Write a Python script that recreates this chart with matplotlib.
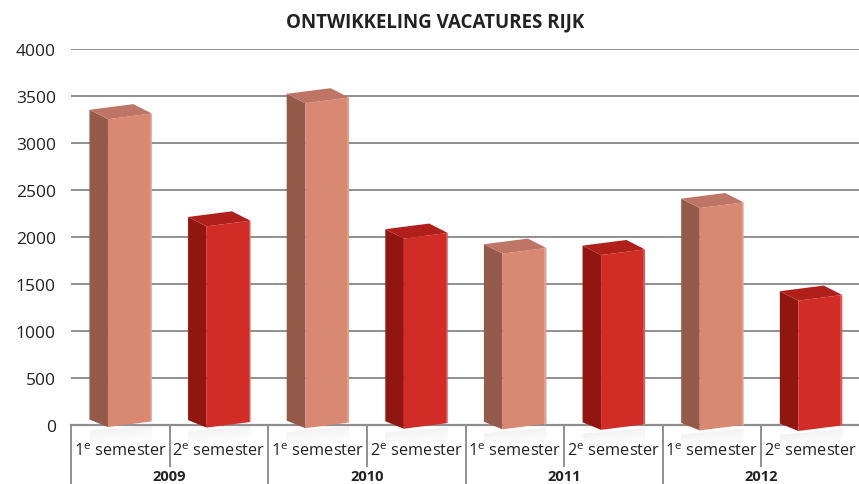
import matplotlib.pyplot as plt
from matplotlib.patches import Polygon

# Data
years = ['2009', '2010', '2011', '2012']
semesters = ['1$^{\\mathregular{e}}$ semester', '2$^{\\mathregular{e}}$ semester']
values = [3280, 2140, 3450, 2010, 1850, 1835, 2335, 1350]
yticks = [0, 500, 1000, 1500, 2000, 2500, 3000, 3500, 4000]

front_cols = ['#D98872', '#D12C26']
side_cols = ['#955A4A', '#91160F']
top_cols = ['#BF7565', '#B11F1B']

plt.rcParams['font.family'] = ['Open Sans', 'DejaVu Sans']

fig = plt.figure(figsize=(8.59, 4.85), dpi=100)
ax = fig.add_axes([71 / 859, (485 - 425.7) / 485, 789 / 859, (425.7 - 49.7) / 485])
ax.set_xlim(0, 8)
ax.set_ylim(0, 4000)

for v in yticks[1:]:
    ax.axhline(v, color='#8f8f8f', lw=1.4, zorder=1)
ax.axhline(0, color='#8f8f8f', lw=1.6, zorder=1, clip_on=False)

# pseudo 3D bar geometry (category units / value units)
x_front0, x_front1 = 0.375, 0.82
dx, dy = 0.188, 100
slant = 30

for i, v in enumerate(values):
    k = i % 2
    x0 = i + x_front0
    x1 = i + x_front1
    b = 5 - 6 * i
    bl, br = b - slant, b + slant
    tl, tr = v - slant, v + slant

    # soft shadow below baseline
    for j in range(6):
        ax.add_patch(Polygon([(x0 - dx, bl - 40 - j * 25), (x1, br - 40 - j * 25),
                              (x1, br - 40 - (j + 1) * 25), (x0 - dx, bl - 40 - (j + 1) * 25)],
                             closed=True, facecolor='#b8b8b8', alpha=0.16 * (6 - j) / 6,
                             lw=0, zorder=0.5, clip_on=False))

    side = Polygon([(x0, bl), (x0, tl), (x0 - dx, tl + dy), (x0 - dx, bl + dy * 0.8)],
                   closed=True, facecolor=side_cols[k], edgecolor='none', zorder=3, clip_on=False)
    front = Polygon([(x0, bl), (x1, br), (x1, tr), (x0, tl)],
                    closed=True, facecolor=front_cols[k], edgecolor='none', zorder=3, clip_on=False)
    top = Polygon([(x0, tl), (x1, tr), (x1 - dx, tr + dy), (x0 - dx, tl + dy)],
                  closed=True, facecolor=top_cols[k], edgecolor='none', zorder=3, clip_on=False)
    for p in (side, front, top):
        ax.add_patch(p)
    ax.plot([x1 - 0.01, x1 - 0.01], [br, tr], color='white', alpha=0.25, lw=1.2, zorder=4,
            clip_on=False)

for s in ax.spines.values():
    s.set_visible(False)
ax.set_xticks([])
ax.set_yticks(yticks)
ax.set_yticklabels([str(t) for t in yticks], fontsize=12.5, color='#222222')
ax.tick_params(axis='y', length=0, pad=11)

# category axis
trans = ax.get_xaxis_transform()
for c in range(9):
    if c % 2 == 0:
        ax.plot([c, c], [0, -0.17], transform=trans, color='#8f8f8f', lw=1.4, clip_on=False)
    else:
        ax.plot([c, c], [0, -0.11], transform=trans, color='#8f8f8f', lw=1.4, clip_on=False)
for i in range(8):
    ax.text(i + 0.5, -0.07, semesters[i % 2], transform=trans, ha='center', va='center',
            fontsize=11.8, color='#222222')
for j, y in enumerate(years):
    ax.text(2 * j + 1, -0.118, y, transform=trans, ha='center', va='top',
            fontsize=10.5, fontweight='bold', color='#222222')

fig.text(435 / 859, 1 - 22 / 485, 'ONTWIKKELING VACATURES RIJK', ha='center', va='center',
         fontsize=13.5, fontweight='bold', color='#222222')

fig.savefig('out.png', dpi=100)
